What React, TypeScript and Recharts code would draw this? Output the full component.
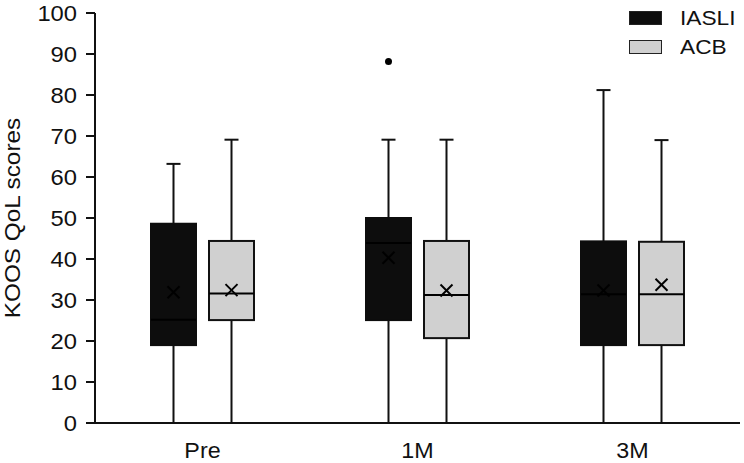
import { ComposedChart, Bar, XAxis, YAxis, Legend, Label } from 'recharts';

const categories = ['Pre', '1M', '3M'];
const seriesNames = ['IASLI', 'ACB'];

const iasliMin = [0, 0, 0];
const iasliQ1 = [19, 25.1, 19];
const iasliMedian = [25.2, 43.9, 31.4];
const iasliQ3 = [48.6, 50, 44.3];
const iasliMax = [63.2, 69.1, 81.2];
const iasliMean = [31.9, 40.3, 32.3];
const iasliOutliers = [[], [88.2], []];

const acbMin = [0, 0, 0];
const acbQ1 = [25.1, 20.7, 19];
const acbMedian = [31.6, 31.2, 31.4];
const acbQ3 = [44.4, 44.4, 44.2];
const acbMax = [69.1, 69.1, 69];
const acbMean = [32.4, 32.3, 33.7];
const acbOutliers = [[], [], []];

const yTicks = [0, 10, 20, 30, 40, 50, 60, 70, 80, 90, 100];
const groupEdges = [0, 1, 2, 3];

const FONT = '"Liberation Sans", Arial, sans-serif';
const INK = '#111';

type Stat = { lo: number; hi: number; min: number; q1: number; med: number; q3: number; max: number; mean: number; out: number[] };

const buildStats = (mn: number[], q1: number[], md: number[], q3: number[], mx: number[], mean: number[], out: number[][]): Stat[] =>
  categories.map((_, i) => ({
    lo: Math.min(mn[i], ...out[i]),
    hi: Math.max(mx[i], ...out[i]),
    min: mn[i], q1: q1[i], med: md[i], q3: q3[i], max: mx[i], mean: mean[i], out: out[i],
  }));

const iasliStats = buildStats(iasliMin, iasliQ1, iasliMedian, iasliQ3, iasliMax, iasliMean, iasliOutliers);
const acbStats = buildStats(acbMin, acbQ1, acbMedian, acbQ3, acbMax, acbMean, acbOutliers);

const data = categories.map((cat, i) => ({
  cat,
  iasli: [iasliStats[i].lo, iasliStats[i].hi],
  acb: [acbStats[i].lo, acbStats[i].hi],
}));

// box drawn inside the range bar [lo, hi]; inner values mapped linearly on the same pixels
const boxShape = (stats: Stat[], fill: string, edge: string) => (props: any) => {
  const { x, y, width, height, index } = props;
  const s = stats[index];
  if (!s) return null;
  const top = Math.min(y, y + height);
  const bottom = Math.max(y, y + height);
  const px = (v: number) => bottom - ((bottom - top) * (v - s.lo)) / (s.hi - s.lo);
  const cx = x + width / 2;
  const m = px(s.mean);
  return (
    <g>
      <line x1={cx} x2={cx} y1={px(s.min)} y2={px(s.max)} stroke={INK} strokeWidth={2} />
      <line x1={cx - 7} x2={cx + 7} y1={px(s.max)} y2={px(s.max)} stroke={INK} strokeWidth={2} />
      <rect x={x} y={px(s.q3)} width={width} height={px(s.q1) - px(s.q3)} fill={fill} stroke={edge} strokeWidth={2} />
      <line x1={x} x2={x + width} y1={px(s.med)} y2={px(s.med)} stroke="#000" strokeWidth={2} />
      <line x1={cx - 6} x2={cx + 6} y1={m - 6} y2={m + 6} stroke="#000" strokeWidth={2} />
      <line x1={cx - 6} x2={cx + 6} y1={m + 6} y2={m - 6} stroke="#000" strokeWidth={2} />
      {s.out.map((o) => (
        <circle key={o} cx={cx} cy={px(o)} r={3.5} fill="#000" />
      ))}
    </g>
  );
};

const YTick = ({ x, y, payload }: any) => (
  <g transform={`translate(${x - 7},${y})`}>
    <text transform="scale(1.08,1)" textAnchor="end" dy="0.36em" fontSize={22} fontFamily={FONT} fill={INK}>
      {payload.value}
    </text>
  </g>
);

const XTick = ({ x, y, payload }: any) => (
  <g transform={`translate(${x},${y + 27})`}>
    <text transform="scale(1.06,1)" textAnchor="middle" fontSize={22} fontFamily={FONT} fill={INK}>
      {payload.value}
    </text>
  </g>
);

const YLabel = ({ viewBox }: any) => (
  <g transform={`translate(19.5,${viewBox.y + viewBox.height / 2})`}>
    <text transform="rotate(-90) scale(1.13,1)" textAnchor="middle" fontSize={21.5} fontFamily={FONT} fill={INK}>
      KOOS QoL scores
    </text>
  </g>
);

const LegendBox = ({ payload }: any) => {
  const items = seriesNames.map((n) => (payload || []).find((p: any) => p.value === n)).filter(Boolean);
  return (
    <div style={{ fontFamily: FONT }}>
      {items.map((p: any) => (
        <div key={p.value} style={{ display: 'flex', alignItems: 'center', height: 29 }}>
          <span style={{ width: 33, height: 14, background: p.color, border: '1.5px solid #222', boxSizing: 'border-box' }} />
          <span style={{ marginLeft: 18, fontSize: 21, color: INK, display: 'inline-block', transform: 'scaleX(1.08)', transformOrigin: 'left center' }}>
            {p.value}
          </span>
        </div>
      ))}
    </div>
  );
};

export default function App() {
  return (
    <div style={{ position: 'absolute', left: 0, top: 0, background: '#fff' }}>
      <ComposedChart width={744} height={463} data={data} margin={{ top: 13, right: 4, bottom: 0, left: 0 }} barSize={45} barGap={13}>
        <XAxis xAxisId="edges" type="number" domain={[0, 3]} ticks={groupEdges} height={0} tick={false} axisLine={false} tickSize={9} tickLine={{ stroke: INK, strokeWidth: 2 }} />
        <XAxis xAxisId="cat" dataKey="cat" height={40} tickLine={false} axisLine={{ stroke: INK, strokeWidth: 2 }} tick={<XTick />} />
        <YAxis domain={[0, 100]} ticks={yTicks} width={95} tickSize={9} interval={0} axisLine={{ stroke: INK, strokeWidth: 2 }} tickLine={{ stroke: INK, strokeWidth: 2 }} tick={<YTick />}>
          <Label content={<YLabel />} />
        </YAxis>
        <Legend layout="vertical" align="center" verticalAlign="middle" content={<LegendBox />} wrapperStyle={{ left: 629, top: 3, width: 115 }} />
        <Bar xAxisId="cat" dataKey="iasli" name="IASLI" fill="#0d0d0d" shape={boxShape(iasliStats, '#0d0d0d', '#0d0d0d')} isAnimationActive={false} />
        <Bar xAxisId="cat" dataKey="acb" name="ACB" fill="#d0d0d0" shape={boxShape(acbStats, '#d0d0d0', INK)} isAnimationActive={false} />
      </ComposedChart>
    </div>
  );
}
